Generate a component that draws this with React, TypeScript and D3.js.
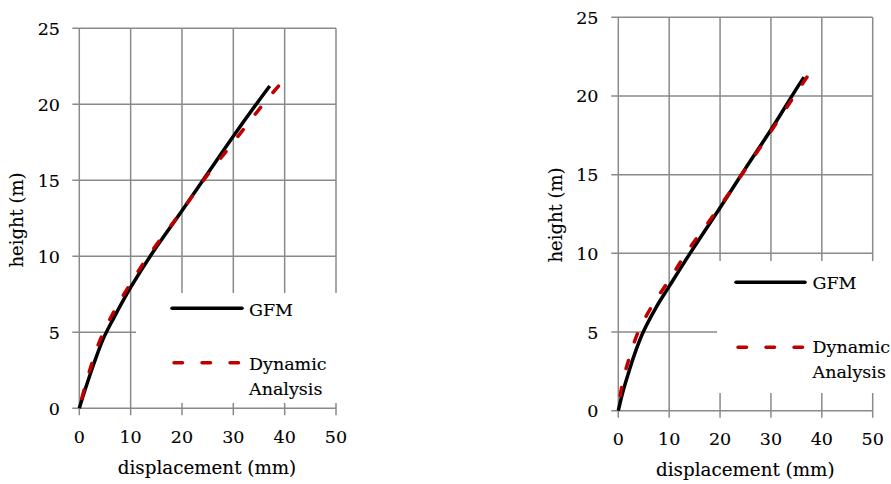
import React, { useEffect, useRef, useState } from 'react';
import * as d3 from 'd3';

// ---- data ----
const xTicks = [0, 10, 20, 30, 40, 50];
const yTicks = [0, 5, 10, 15, 20, 25];
const seriesNames = ['GFM', 'Dynamic', 'Analysis'];
const xTitle = 'displacement (mm)';
const yTitle = 'height (m)';

// left panel
const leftGfmDisp = [0, 1.2, 2.8, 4.7, 6.8, 10, 14, 20, 25, 30, 35, 37.1];
const leftGfmHeight = [0, 1.3, 2.9, 4.6, 6.0, 7.95, 10.1, 13.0, 15.45, 17.9, 20.25, 21.2];
const leftDynDisp = [0, 1.0, 2.4, 4.3, 6.8, 9.5, 13.4, 20, 24.2, 30, 35.8, 38.8];
const leftDynHeight = [0, 1.3, 2.9, 4.7, 6.4, 7.95, 10.0, 13.0, 15.0, 17.5, 20.0, 21.2];

// right panel
const rightGfmDisp = [0, 0.9, 2.0, 3.2, 4.9, 7.5, 10, 14.1, 20, 25, 30, 35, 36.5];
const rightGfmHeight = [0, 1.2, 2.4, 3.6, 5.0, 6.6, 7.9, 10.0, 12.9, 15.4, 17.85, 20.45, 21.2];
const rightDynDisp = [0, 0.5, 1.3, 2.4, 3.9, 6.8, 10, 13.3, 20, 25, 30, 35, 37.1];
const rightDynHeight = [0, 1.2, 2.4, 3.6, 5.0, 6.75, 8.3, 10.0, 13.0, 15.35, 17.75, 20.2, 21.2];

const FONT = "'DejaVu Serif', serif";
const GRID = '#8a8a8a';
const RED = '#C00000';
const DASH = 8.5;
const GAP = 19.5;

type Layout = {
  x0: number; x1: number; y0: number; y1: number;
  yLabelRight: number; xLabelBase: number;
  xTitleX: number; xTitleY: number; yTitleX: number; yTitleY: number;
  box: [number, number, number, number];
  lx1: number; lx2: number; gfmY: number; dynY: number;
  tx: number; gfmBase: number; dynBase: number; anaBase: number;
};

const leftLayout: Layout = {
  x0: 79.3, x1: 336, y0: 408.3, y1: 28.3,
  yLabelRight: 60, xLabelBase: 443,
  xTitleX: 207, xTitleY: 474, yTitleX: 23, yTitleY: 220,
  box: [136, 293, 220, 110],
  lx1: 172, lx2: 242, gfmY: 308.3, dynY: 362.7,
  tx: 249, gfmBase: 315.5, dynBase: 370, anaBase: 395,
};

const rightLayout: Layout = {
  x0: 618.3, x1: 872.7, y0: 410.7, y1: 17.3,
  yLabelRight: 598.5, xLabelBase: 445,
  xTitleX: 745.3, xTitleY: 476, yTitleX: 562, yTitleY: 215,
  box: [717, 261, 200, 132],
  lx1: 736, lx2: 805, gfmY: 282.3, dynY: 347.3,
  tx: 812.5, gfmBase: 289, dynBase: 353.3, anaBase: 378.3,
};

function Panel({ L, gd, gh, dd, dh }: { L: Layout; gd: number[]; gh: number[]; dd: number[]; dh: number[] }) {
  const x = d3.scaleLinear().domain([0, 50]).range([L.x0, L.x1]);
  const y = d3.scaleLinear().domain([0, 25]).range([L.y0, L.y1]);
  const line = d3
    .line<[number, number]>()
    .x((p) => x(p[0]))
    .y((p) => y(p[1]))
    .curve(d3.curveCatmullRom.alpha(0.5));
  const gfm = line(gd.map((v, i) => [v, gh[i]] as [number, number])) || '';
  const dyn = line(dd.map((v, i) => [v, dh[i]] as [number, number])) || '';
  const dynRef = useRef<SVGPathElement>(null);
  const [offset, setOffset] = useState(0);
  useEffect(() => {
    if (dynRef.current) {
      const len = dynRef.current.getTotalLength();
      const period = DASH + GAP;
      // make the pattern end with a visible dash at the top of the curve
      setOffset(DASH - (len % period));
    }
  }, [dyn]);
  const fs = 17.5;
  return (
    <g>
      {yTicks.map((t) => (
        <line key={'h' + t} x1={L.x0 - 7} x2={x(50)} y1={y(t)} y2={y(t)} stroke={GRID} strokeWidth={1.5} />
      ))}
      {xTicks.map((t) => (
        <line key={'v' + t} x1={x(t)} x2={x(t)} y1={y(25)} y2={L.y0 + 7} stroke={GRID} strokeWidth={1.5} />
      ))}
      <g fontFamily={FONT} fontSize={fs} fill="#000" stroke="#000" strokeWidth={0.12}>
        {yTicks.map((t) => (
          <text key={'yl' + t} x={L.yLabelRight} y={y(t) + 6.5} textAnchor="end">{t}</text>
        ))}
        {xTicks.map((t) => (
          <text key={'xl' + t} x={x(t)} y={L.xLabelBase} textAnchor="middle">{t}</text>
        ))}
        <text x={L.xTitleX} y={L.xTitleY} textAnchor="middle" fontSize={18.3}>{xTitle}</text>
        <text transform={`translate(${L.yTitleX},${L.yTitleY}) rotate(-90)`} textAnchor="middle" fontSize={18}>{yTitle}</text>
      </g>
      <rect x={L.box[0]} y={L.box[1]} width={L.box[2]} height={L.box[3]} fill="#fff" />
      <path d={gfm} fill="none" stroke="#000" strokeWidth={3.5} strokeLinejoin="round" />
      <path ref={dynRef} d={dyn} fill="none" stroke={RED} strokeWidth={3.5} strokeDasharray={`${DASH},${GAP}`} strokeDashoffset={offset} strokeLinecap="round" />
      <line x1={L.lx1} x2={L.lx2} y1={L.gfmY} y2={L.gfmY} stroke="#000" strokeWidth={3.5} strokeLinecap="round" />
      <line x1={L.lx1 + 2} x2={L.lx2} y1={L.dynY} y2={L.dynY} stroke={RED} strokeWidth={3.5} strokeDasharray={`${DASH},${GAP}`} strokeLinecap="round" />
      <g fontFamily={FONT} fontSize={fs} fill="#000" stroke="#000" strokeWidth={0.12}>
        <text x={L.tx} y={L.gfmBase}>{seriesNames[0]}</text>
        <text x={L.tx} y={L.dynBase}>{seriesNames[1]}</text>
        <text x={L.tx} y={L.anaBase}>{seriesNames[2]}</text>
      </g>
    </g>
  );
}

export default function App() {
  return (
    <svg width={891} height={484} style={{ position: 'absolute', left: 0, top: 0, background: '#fff' }}>
      <rect width={891} height={484} fill="#fff" />
      <Panel L={leftLayout} gd={leftGfmDisp} gh={leftGfmHeight} dd={leftDynDisp} dh={leftDynHeight} />
      <Panel L={rightLayout} gd={rightGfmDisp} gh={rightGfmHeight} dd={rightDynDisp} dh={rightDynHeight} />
    </svg>
  );
}
